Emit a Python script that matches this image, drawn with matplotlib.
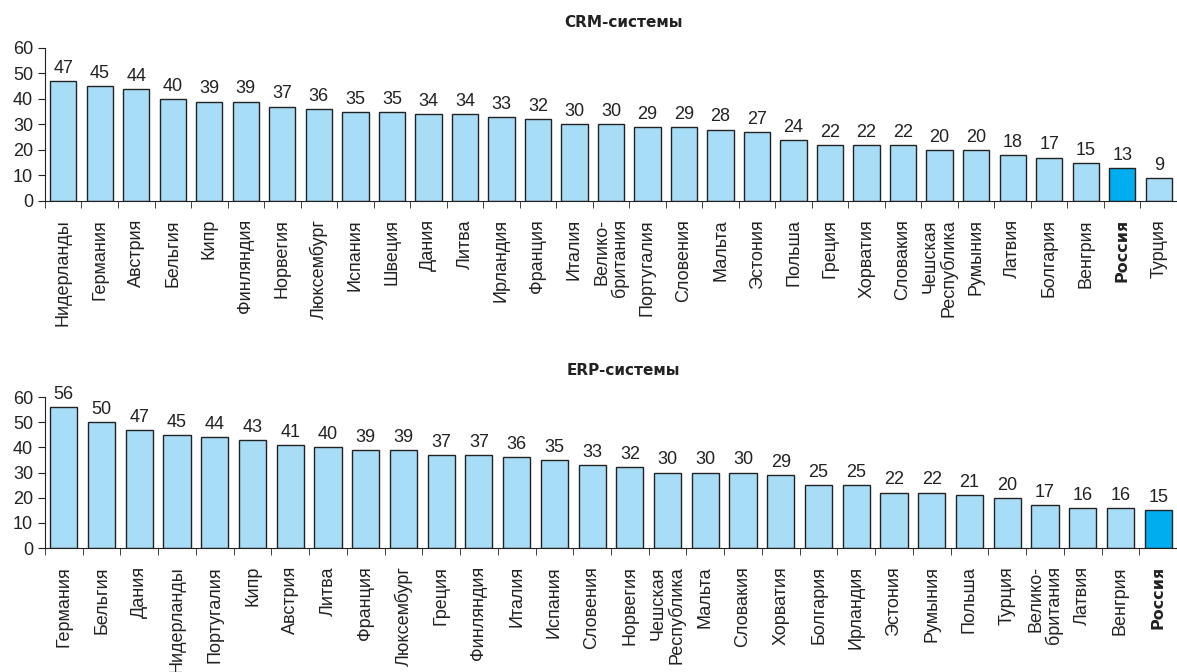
import numpy as np
import matplotlib.pyplot as plt

crm_countries = ['Нидерланды', 'Германия', 'Австрия', 'Бельгия', 'Кипр', 'Финляндия',
                 'Норвегия', 'Люксембург', 'Испания', 'Швеция', 'Дания', 'Литва',
                 'Ирландия', 'Франция', 'Италия', 'Велико-\nбритания', 'Португалия',
                 'Словения', 'Мальта', 'Эстония', 'Польша', 'Греция', 'Хорватия',
                 'Словакия', 'Чешская\nРеспублика', 'Румыния', 'Латвия', 'Болгария',
                 'Венгрия', 'Россия', 'Турция']
crm_values = [47, 45, 44, 40, 39, 39, 37, 36, 35, 35, 34, 34, 33, 32, 30, 30, 29, 29,
              28, 27, 24, 22, 22, 22, 20, 20, 18, 17, 15, 13, 9]

erp_countries = ['Германия', 'Бельгия', 'Дания', 'Нидерланды', 'Португалия', 'Кипр',
                 'Австрия', 'Литва', 'Франция', 'Люксембург', 'Греция', 'Финляндия',
                 'Италия', 'Испания', 'Словения', 'Норвегия', 'Чешская\nРеспублика',
                 'Мальта', 'Словакия', 'Хорватия', 'Болгария', 'Ирландия', 'Эстония',
                 'Румыния', 'Польша', 'Турция', 'Велико-\nбритания', 'Латвия',
                 'Венгрия', 'Россия']
erp_values = [56, 50, 47, 45, 44, 43, 41, 40, 39, 39, 37, 37, 36, 35, 33, 32, 30, 30,
              30, 29, 25, 25, 22, 22, 21, 20, 17, 16, 16, 15]

plt.rcParams['font.family'] = ['Liberation Sans Narrow', 'Liberation Sans', 'DejaVu Sans']

light = '#a8ddf7'
dark = '#00aeef'

fig = plt.figure(figsize=(11.77, 6.72), dpi=100)


def draw(ax, countries, values):
    x = np.arange(len(countries))
    colors = [dark if c == 'Россия' else light for c in countries]
    bars = ax.bar(x, values, width=0.72, color=colors, edgecolor='#222222', linewidth=1)
    ax.bar_label(bars, padding=3, fontsize=13, color='#222222')
    ax.set_xlim(-0.5, len(countries) - 0.5)
    ax.set_ylim(0, 60)
    ax.set_yticks(range(0, 61, 10))
    ax.tick_params(axis='y', labelsize=13, length=5, colors='#222222')
    ax.set_xticks(x)
    ax.set_xticklabels(countries, rotation=90, va='top', ha='center',
                       multialignment='right', linespacing=1.0,
                       fontsize=13, color='#222222')
    ax.set_xticks(np.arange(-0.5, len(countries)), minor=True)
    ax.tick_params(axis='x', which='major', length=0, pad=13)
    ax.tick_params(axis='x', which='minor', length=5, color='#222222')
    for lbl in ax.get_xticklabels():
        if lbl.get_text() == 'Россия':
            lbl.set_fontweight('bold')
            lbl.set_family(['DejaVu Sans'])
            lbl.set_fontsize(11.5)
    for s in ['top', 'right']:
        ax.spines[s].set_visible(False)
    ax.spines['left'].set_color('#222222')
    ax.spines['bottom'].set_color('#222222')


ax1 = fig.add_axes([0.0382, 0.7009, 0.9618, 0.2277])
draw(ax1, crm_countries, crm_values)
ax2 = fig.add_axes([0.0382, 0.1845, 0.9618, 0.2247])
draw(ax2, erp_countries, erp_values)

fig.text(0.530, 0.967, 'CRM-системы', ha='center', va='center', fontsize=11,
         fontweight='bold', family=['DejaVu Sans'], color='#222222')
fig.text(0.530, 0.448, 'ERP-системы', ha='center', va='center', fontsize=11,
         fontweight='bold', family=['DejaVu Sans'], color='#222222')

fig.savefig('out.png', dpi=100)
